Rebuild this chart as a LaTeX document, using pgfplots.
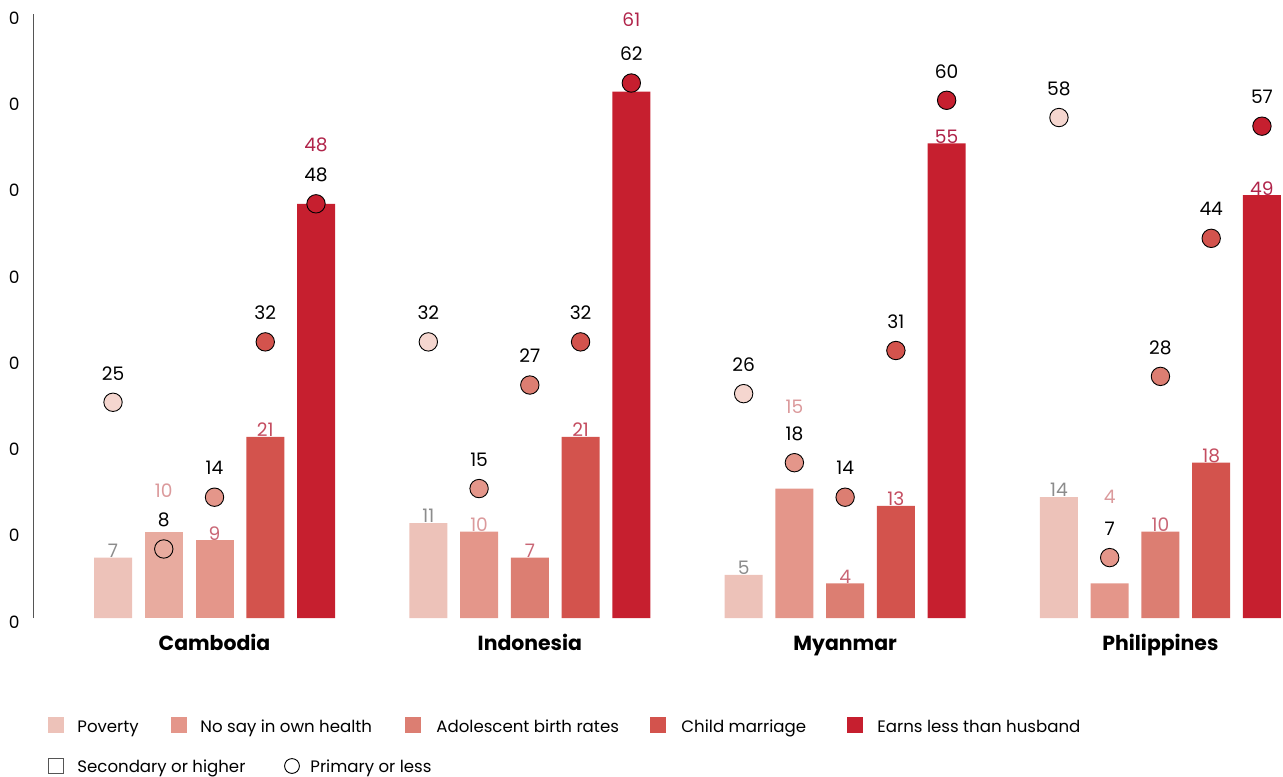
\documentclass[border=0pt]{standalone}
\usepackage{pgfplots}
\pgfplotsset{compat=1.18}
\usepackage{pgfplotstable}
\usepackage{fontspec}
\setmainfont{Poppins}
\newcommand\f{\fontsize{9.3pt}{11pt}\selectfont}
\definecolor{cPov}{HTML}{EDC2B9}
\definecolor{cPovC}{HTML}{F5D6CF}
\definecolor{cSay}{HTML}{E4968A}
\definecolor{cSayK}{HTML}{E8AB9F}
\definecolor{cAdo}{HTML}{DC7E72}
\definecolor{cChi}{HTML}{D3534D}
\definecolor{cEar}{HTML}{C61F2F}
\definecolor{lPov}{HTML}{8C8C8C}
\definecolor{lSay}{HTML}{DB9A9C}
\definecolor{lAdo}{HTML}{C96776}
\definecolor{lChi}{HTML}{C44D60}
\definecolor{lEar}{HTML}{B0244A}
\definecolor{axgray}{HTML}{555555}

% x: position, bar: secondary or higher, circ: primary or less, ly: label height of bar value
\pgfplotstableread{
x bar circ ly
-2 7 25 7.81
4.213 11 32 11.81
10.426 5 26 5.81
16.639 14 58 14.81
}\tPov
\pgfplotstableread{
x bar circ ly
-1 10 8 14.7
5.213 10 15 10.81
11.426 15 18 24.45
17.639 4 7 14.0
}\tSay
\pgfplotstableread{
x bar circ ly
0 9 14 9.81
6.213 7 27 7.81
12.426 4 14 4.81
18.639 10 28 10.81
}\tAdo
\pgfplotstableread{
x bar circ ly
1 21 32 21.81
7.213 21 32 21.81
13.426 13 31 13.81
19.639 18 44 18.81
}\tChi
\pgfplotstableread{
x bar circ ly
2 48 48 54.8
8.213 61 62 69.4
14.426 55 60 55.81
20.639 49 57 49.81
}\tEar

\pgfplotsset{
  /pgf/number format/assume math mode=true,
  barst/.style={ybar, bar width=19pt, bar shift=0pt, draw=none, fill=#1},
  circst/.style={only marks, mark=*, mark size=4.6pt,
     mark options={fill=#1, draw=black, line width=0.45pt},
     nodes near coords, point meta=explicit,
     nodes near coords style={anchor=center, yshift=14.5pt, text=black, font=\f}},
  lblst/.style={draw=none, mark=none, nodes near coords, point meta=explicit,
     nodes near coords style={anchor=center, text=#1, font=\f}},
}

\begin{document}
\begin{tikzpicture}
\begin{scope}
\clip (-12pt,-79pt) rectangle (624.5pt,309pt);
\begin{axis}[
  at={(0pt,0pt)}, anchor=south west,
  scale only axis, width=624.5pt, height=302pt,
  xmin=-3.557, xmax=21.054, ymin=0, ymax=70,
  clip=false,
  axis x line*=bottom, axis y line*=left,
  x axis line style={draw=none},
  y axis line style={draw=axgray, line width=0.5pt, -},
  major tick length=0pt,
  ytick={0,10,...,70},
  yticklabel style={anchor=east, inner sep=0pt, xshift=-7pt, yshift=-2pt, font=\fontsize{8.5pt}{10pt}\selectfont, text=black},
  xtick={0,6.213,12.426,18.639},
  xticklabels={Cambodia,Indonesia,Myanmar,Philippines},
  xticklabel style={anchor=base, inner sep=0pt, yshift=-16pt, font=\fontsize{10.2pt}{12pt}\selectfont\bfseries, text=black},
]
% bars (secondary or higher)
\addplot[barst=cPov] table[x=x,y=bar]{\tPov};
\addplot[barst=cSayK] coordinates {(-1,10)};
\addplot[barst=cSay] coordinates {(5.213,10) (11.426,15) (17.639,4)};
\addplot[barst=cSay] coordinates {(0,9)};
\addplot[barst=cAdo] coordinates {(6.213,7) (12.426,4) (18.639,10)};
\addplot[barst=cChi] table[x=x,y=bar]{\tChi};
\addplot[barst=cEar] table[x=x,y=bar]{\tEar};
% circles (primary or less)
\addplot[circst=cPovC] table[x=x,y=circ,meta=circ]{\tPov};
\addplot[only marks, mark=o, mark size=4.6pt, mark options={draw=black, line width=0.45pt},
  nodes near coords, point meta=explicit,
  nodes near coords style={anchor=center, yshift=14.5pt, text=black, font=\f}]
  coordinates {(-1,8) [8]};
\addplot[circst=cSay] coordinates {(5.213,15) [15] (11.426,18) [18] (17.639,7) [7]};
\addplot[circst=cSay] coordinates {(0,14) [14]};
\addplot[circst=cAdo] coordinates {(6.213,27) [27] (12.426,14) [14] (18.639,28) [28]};
\addplot[circst=cChi] table[x=x,y=circ,meta=circ]{\tChi};
\addplot[circst=cEar] table[x=x,y=circ,meta=circ]{\tEar};
% bar value labels
\addplot[lblst=lPov] table[x=x,y=ly,meta=bar]{\tPov};
\addplot[lblst=lSay] table[x=x,y=ly,meta=bar]{\tSay};
\addplot[lblst=lAdo] table[x=x,y=ly,meta=bar]{\tAdo};
\addplot[lblst=lChi] table[x=x,y=ly,meta=bar]{\tChi};
\addplot[lblst=lEar] table[x=x,y=ly,meta=bar]{\tEar};
\end{axis}
\end{scope}
% legend
\begin{scope}[every node/.style={anchor=base west, inner sep=0pt, font=\fontsize{8.3pt}{10pt}\selectfont, text=black}]
\fill[cPov] (7pt,-57.5pt) rectangle ++(8pt,8pt);   \node at (21.5pt,-57pt) {Poverty};
\fill[cSay] (68.5pt,-57.5pt) rectangle ++(8pt,8pt); \node at (83pt,-57pt) {No say in own health};
\fill[cAdo] (185.5pt,-57.5pt) rectangle ++(8pt,8pt); \node at (201pt,-57pt) {Adolescent birth rates};
\fill[cChi] (308pt,-57.5pt) rectangle ++(8pt,8pt); \node at (323.5pt,-57pt) {Child marriage};
\fill[cEar] (406.5pt,-57.5pt) rectangle ++(8pt,8pt); \node at (421.5pt,-57pt) {Earns less than husband};
\draw[axgray, line width=0.45pt] (7.25pt,-77.75pt) rectangle ++(7.5pt,7.5pt); \node at (21.5pt,-77pt) {Secondary or higher};
\draw[black, line width=0.45pt] (129pt,-74pt) circle (3.7pt); \node at (138pt,-77pt) {Primary or less};
\end{scope}
\pgfresetboundingbox
\path[use as bounding box] (-17pt,-79pt) rectangle (624.5pt,309pt);
\end{tikzpicture}
\end{document}
